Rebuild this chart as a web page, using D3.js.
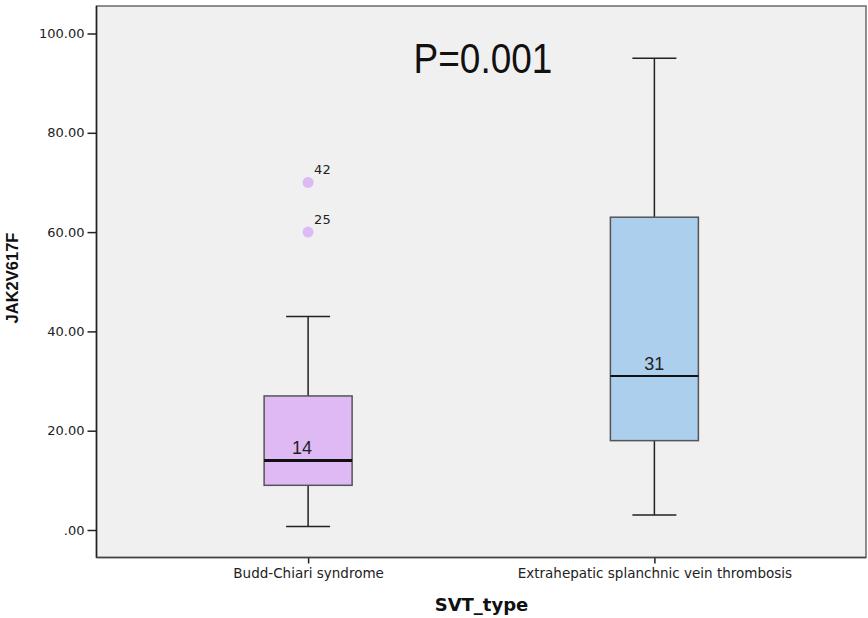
<!DOCTYPE html>
<html><head><meta charset="utf-8">
<script src="https://cdn.jsdelivr.net/npm/d3@7"></script>
<style>body{margin:0;background:#fff}</style>
</head><body>
<svg id="c" width="868" height="618"></svg>
<script>
const categories = ["Budd-Chiari syndrome", "Extrahepatic splanchnic vein thrombosis"];
const whiskerLow = [0.7, 3];
const q1 = [9, 18];
const median = [14, 31];
const q3 = [27, 63];
const whiskerHigh = [43, 95];
const outlierValues = [[70, 60], []];
const outlierIds = [["42", "25"], []];
const boxColors = ["#dfb9f3", "#abcfed"];
const yTicks = [0, 20, 40, 60, 80, 100];
const pText = "P=0.001";

const svg = d3.select("#c");
const L = 96.5, R = 866, T = 6, B = 557.5;
const y = d3.scaleLinear().domain([0, 100]).range([530, 33.5]);
const x = d3.scalePoint().domain(categories).range([L + (R - L) * 0.275, L + (R - L) * 0.725]);
const boxW = 88;
const labelOffset = [-6, 0];
const tickFont = "DejaVu Sans, Verdana, sans-serif";

svg.append("rect").attr("x", L).attr("y", T).attr("width", R - L).attr("height", B - T)
  .attr("fill", "#f0f0f0").attr("stroke", "#6a6a6a").attr("stroke-width", 1.5);

// y axis
const yAxis = d3.axisLeft(y).tickValues(yTicks).tickSize(9).tickSizeOuter(0)
  .tickFormat(d => d === 0 ? ".00" : d3.format(".2f")(d));
const ga = svg.append("g").attr("transform", `translate(${L},0)`).call(yAxis);
ga.select(".domain").remove();
ga.selectAll(".tick line").attr("stroke", "#222").attr("stroke-width", 1.5);
ga.selectAll(".tick text").attr("font-family", tickFont)
  .attr("font-size", 13).attr("fill", "#222").attr("x", -12);
svg.append("line").attr("x1", L).attr("x2", L).attr("y1", T).attr("y2", B)
  .attr("stroke", "#222").attr("stroke-width", 1.5);

// x axis
const xAxis = d3.axisBottom(x).tickSize(6).tickSizeOuter(0);
const gx = svg.append("g").attr("transform", `translate(0,${B})`).call(xAxis);
gx.select(".domain").remove();
gx.selectAll(".tick line").attr("stroke", "#222").attr("stroke-width", 1.5);
gx.selectAll(".tick text").attr("font-family", tickFont)
  .attr("font-size", 13.5).attr("fill", "#222").attr("y", 11);
svg.append("line").attr("x1", L).attr("x2", R).attr("y1", B).attr("y2", B)
  .attr("stroke", "#444").attr("stroke-width", 1.5);

categories.forEach((c, i) => {
  const cx = x(c);
  const g = svg.append("g");
  g.append("line").attr("x1", cx).attr("x2", cx).attr("y1", y(whiskerHigh[i])).attr("y2", y(q3[i]))
    .attr("stroke", "#222").attr("stroke-width", 1.5);
  g.append("line").attr("x1", cx).attr("x2", cx).attr("y1", y(q1[i])).attr("y2", y(whiskerLow[i]))
    .attr("stroke", "#222").attr("stroke-width", 1.5);
  [whiskerHigh[i], whiskerLow[i]].forEach(v => {
    g.append("line").attr("x1", cx - boxW / 4).attr("x2", cx + boxW / 4).attr("y1", y(v)).attr("y2", y(v))
      .attr("stroke", "#222").attr("stroke-width", 1.5);
  });
  g.append("rect").attr("x", cx - boxW / 2).attr("width", boxW)
    .attr("y", y(q3[i])).attr("height", y(q1[i]) - y(q3[i]))
    .attr("fill", boxColors[i]).attr("stroke", "#555").attr("stroke-width", 1.5);
  g.append("line").attr("x1", cx - boxW / 2).attr("x2", cx + boxW / 2)
    .attr("y1", y(median[i])).attr("y2", y(median[i]))
    .attr("stroke", "#111").attr("stroke-width", i === 0 ? 3 : 2);
  g.append("text").attr("x", cx + labelOffset[i]).attr("y", y(median[i]) - 6).attr("text-anchor", "middle")
    .attr("font-family", "Liberation Sans, Arial, sans-serif").attr("font-size", 18).attr("fill", "#222")
    .text(median[i]);
  outlierValues[i].forEach((v, j) => {
    g.append("circle").attr("cx", cx).attr("cy", y(v)).attr("r", 5.5).attr("fill", boxColors[i]);
    g.append("text").attr("x", cx + 6).attr("y", y(v) - 8)
      .attr("font-family", tickFont).attr("font-size", 13).attr("fill", "#222")
      .text(outlierIds[i][j]);
  });
});

svg.append("text").attr("transform", "translate(483,72.5) scale(1,1.15)").attr("text-anchor", "middle")
  .attr("font-family", "Liberation Sans, Arial, sans-serif").attr("font-size", 37).attr("fill", "#111")
  .text(pText);

svg.append("text").attr("transform", `translate(18,278) rotate(-90)`).attr("text-anchor", "middle")
  .attr("font-family", "Liberation Sans, Arial, sans-serif").attr("font-size", 16.5).attr("font-weight", "bold")
  .attr("fill", "#111").text("JAK2V617F");
svg.append("text").attr("x", 481.5).attr("y", 611).attr("text-anchor", "middle")
  .attr("font-family", "DejaVu Sans, Verdana, sans-serif").attr("font-size", 18).attr("font-weight", "bold")
  .attr("fill", "#111").text("SVT_type");
</script>
</body></html>
